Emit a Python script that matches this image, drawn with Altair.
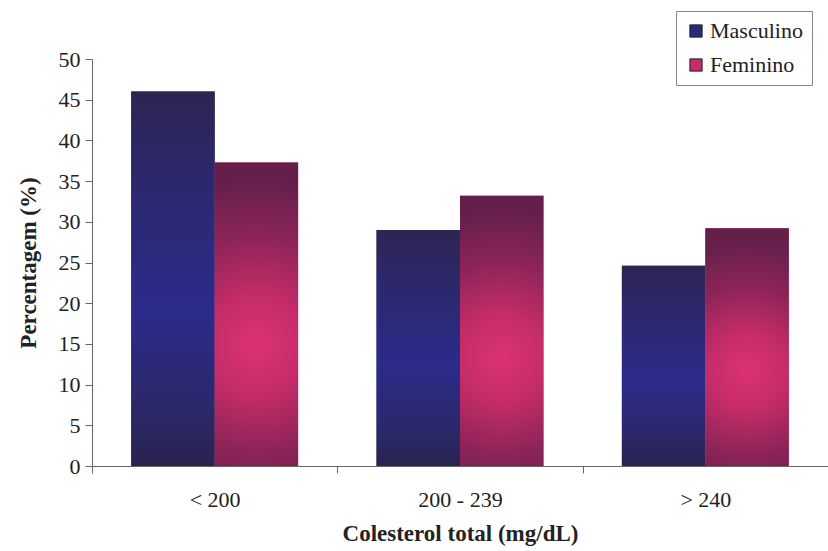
import altair as alt
import pandas as pd

# Percentagem de indivíduos por classe de colesterol total, por sexo
categorias = ["< 200", "200 - 239", "> 240"]
sexos = ["Masculino", "Feminino"]
masculino = [46.0, 29.0, 24.6]
feminino = [37.3, 33.2, 29.2]

cores_legenda = ["#2b2a74", "#c42d6c"]

linhas = []
for i, c in enumerate(categorias):
    linhas.append({"Colesterol": c, "Sexo": "Masculino", "Valor": masculino[i]})
    linhas.append({"Colesterol": c, "Sexo": "Feminino", "Valor": feminino[i]})
df = pd.DataFrame(linhas)

FONTE = "Liberation Serif"
COR_TEXTO = "#222222"
COR_EIXO = "#666666"

# Preenchimentos em degradê das barras
grad_azul = {
    "gradient": "linear",
    "x1": 0, "y1": 0, "x2": 0, "y2": 1,
    "stops": [
        {"offset": 0.0, "color": "#2d2552"},
        {"offset": 0.22, "color": "#2c286c"},
        {"offset": 0.58, "color": "#2b2b8a"},
        {"offset": 0.86, "color": "#2b2868"},
        {"offset": 1.0, "color": "#29234e"},
    ],
}
grad_rosa = {
    "gradient": "radial",
    "x1": 0.5, "y1": 0.6, "r1": 0,
    "x2": 0.5, "y2": 0.6, "r2": 0.55,
    "stops": [
        {"offset": 0.0, "color": "#dc3272"},
        {"offset": 0.3, "color": "#c42c68"},
        {"offset": 0.65, "color": "#8c2458"},
        {"offset": 1.0, "color": "#64204a"},
    ],
}

x_enc = alt.X(
    "Colesterol:N",
    sort=categorias,
    scale=alt.Scale(paddingInner=0, paddingOuter=0),
    axis=alt.Axis(
        title="Colesterol total (mg/dL)",
        labelAngle=0,
        tickBand="extent",
        labelPadding=16,
        titlePadding=12,
    ),
)
xoff_enc = alt.XOffset(
    "Sexo:N", sort=sexos, scale=alt.Scale(paddingInner=0, paddingOuter=0.47)
)
y_enc = alt.Y(
    "Valor:Q",
    scale=alt.Scale(domain=[0, 50], nice=False),
    axis=alt.Axis(
        title="Percentagem (%)",
        values=list(range(0, 51, 5)),
        grid=False,
        labelPadding=5,
        titlePadding=18,
    ),
)

base = alt.Chart(df).mark_bar().encode(
    x=x_enc,
    xOffset=xoff_enc,
    y=y_enc,
    color=alt.Color(
        "Sexo:N",
        sort=sexos,
        scale=alt.Scale(domain=sexos, range=cores_legenda),
        legend=alt.Legend(title=None),
    ),
)

barras_m = (
    alt.Chart(df)
    .transform_filter(alt.datum.Sexo == "Masculino")
    .mark_bar(color=grad_azul)
    .encode(x=alt.X("Colesterol:N", sort=categorias), xOffset=alt.XOffset("Sexo:N", sort=sexos), y="Valor:Q")
)
barras_f = (
    alt.Chart(df)
    .transform_filter(alt.datum.Sexo == "Feminino")
    .mark_bar(color=grad_rosa)
    .encode(x=alt.X("Colesterol:N", sort=categorias), xOffset=alt.XOffset("Sexo:N", sort=sexos), y="Valor:Q")
)

chart = (
    alt.layer(base, barras_m, barras_f)
    .properties(
        width=736,
        height=407,
        autosize=alt.AutoSizeParams(type="none"),
        padding={"left": 92, "top": 59, "right": 0, "bottom": 85},
        background="white",
    )
    .configure_view(stroke=None)
    .configure_axis(
        labelFont=FONTE,
        labelFontSize=22,
        labelColor=COR_TEXTO,
        titleFont=FONTE,
        titleFontSize=23,
        titleFontWeight="bold",
        titleColor=COR_TEXTO,
        domainColor=COR_EIXO,
        tickColor=COR_EIXO,
        tickSize=7,
    )
    .configure_legend(
        orient="none",
        legendX=584,
        legendY=-48,
        strokeColor="#888888",
        fillColor="white",
        padding=9,
        symbolType="square",
        symbolSize=150,
        symbolStrokeColor="#222222",
        symbolStrokeWidth=1,
        symbolOpacity=1,
        labelFont=FONTE,
        labelFontSize=22,
        labelColor=COR_TEXTO,
        labelOffset=3,
        rowPadding=12,
    )
)

chart.save("out.html", embed_options={"renderer": "svg", "actions": False})
